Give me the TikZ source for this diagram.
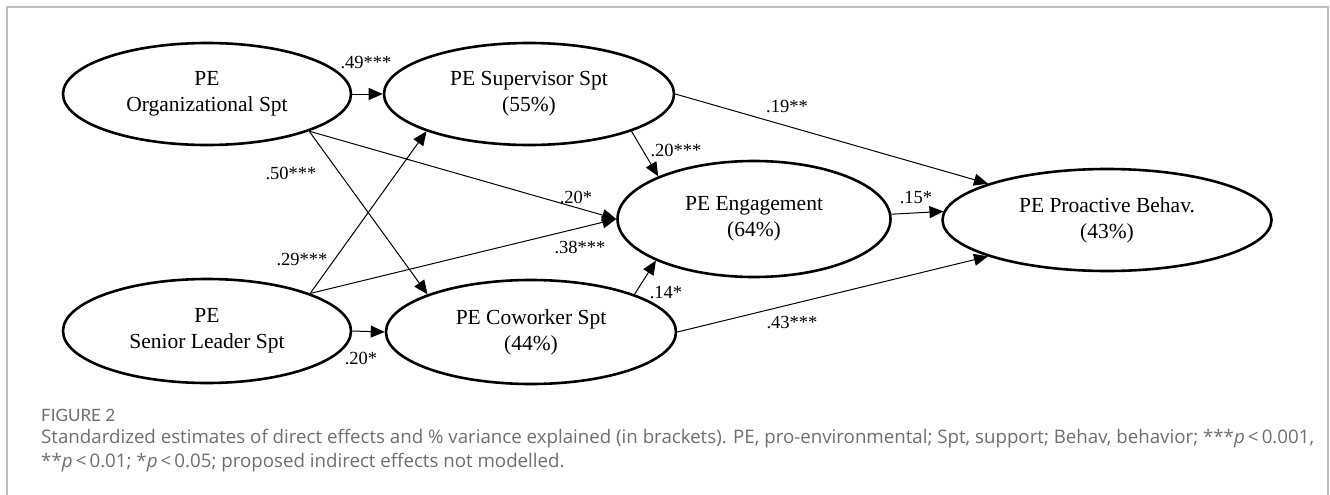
\documentclass[tikz,border=0pt]{standalone}
\usepackage{fontspec}
\setmainfont{Liberation Serif}
\newfontfamily\capfont{Open Sans}
\newfontfamily\figfont{Lato}
\usetikzlibrary{shapes.geometric,arrows.meta}
\definecolor{framegray}{RGB}{190,190,190}
\definecolor{capgray}{RGB}{110,110,110}
\begin{document}
\begin{tikzpicture}[x=1pt,y=-1pt,
  lat/.style={ellipse,draw,line width=2.6pt,inner sep=0pt,align=center,
    font=\fontsize{21.5}{25.7}\selectfont},
  arr/.style={line width=1pt,-{Triangle[length=14pt,width=12pt]}},
  lbl/.style={inner sep=0pt,font=\fontsize{18.5}{20}\selectfont},
  captext/.style={inner sep=0pt,anchor=west,text=capgray,font=\capfont\fontsize{18.7}{22}\selectfont}]
\useasboundingbox (0,0) rectangle (1330,495);
\draw[framegray,line width=1.5pt] (7,495) -- (7,7) -- (1328,7) -- (1328,495);

\node[lat,minimum width=288pt,minimum height=102pt] (org) at (207,94) {PE\\Organizational Spt};
\node[lat,minimum width=290pt,minimum height=102pt] (sup) at (529,94) {PE Supervisor Spt\\(55\%)};
\node[lat,minimum width=288pt,minimum height=104pt] (sen) at (207,331) {PE\\Senior Leader Spt};
\node[lat,minimum width=290pt,minimum height=104pt] (cow) at (531,332) {PE Coworker Spt\\(44\%)};
\node[lat,minimum width=273pt,minimum height=116pt] (eng) at (754,219) {PE Engagement\\(64\%)};
\node[lat,minimum width=329pt,minimum height=102pt] (pro) at (1107,220) {PE Proactive Behav.\\(43\%)};

\draw[arr] (org.east) -- (sup.west);
\draw[arr] (org.-20.7) -- (cow.160.4);
\draw[arr] (org.-20.7) -- (eng.west);
\draw[arr] (sen.20.2) -- (sup.200);
\draw[arr] (sen.20.2) -- (eng.west);
\draw[arr] (sen.east) -- (cow.west);
\draw[arr] (sup.-20.2) -- (eng.156.6);
\draw[arr] (cow.20.9) -- (eng.203.9);
\draw[arr] (sup.east) -- (pro.163.6);
\draw[arr] (cow.east) -- (pro.197.3);
\draw[arr] (eng.2.5) -- (pro.177.6);

\node[lbl] (l1) at (366,63) {.49***};
\node[lbl] (l2) at (291,173) {.50***};
\node[lbl] (l3) at (576,197) {.20*};
\node[lbl] (l4) at (302,260) {.29***};
\node[lbl] (l5) at (580,247) {.38***};
\node[lbl] (l6) at (361,358) {.20*};
\node[lbl] (l7) at (676,150) {.20***};
\node[lbl] (l8) at (666,293) {.14*};
\node[lbl] (l9) at (787,107) {.19**};
\node[lbl] (l10) at (792,323) {.43***};
\node[lbl] (l11) at (916,198) {.15*};

\node[captext,font=\figfont\fontsize{17}{20}\selectfont,text=capgray] (fig) at (41,415) {FIGURE 2};
\node[captext] (c1) at (41,439) {Standardized estimates of direct effects and \% variance explained (in brackets). PE, pro-environmental; Spt, support; Behav, behavior; ***\textit{p}\,<\,0.001,};
\node[captext] (c2) at (41,463) {**\textit{p}\,<\,0.01; *\textit{p}\,<\,0.05; proposed indirect effects not modelled.};
\end{tikzpicture}
\end{document}
